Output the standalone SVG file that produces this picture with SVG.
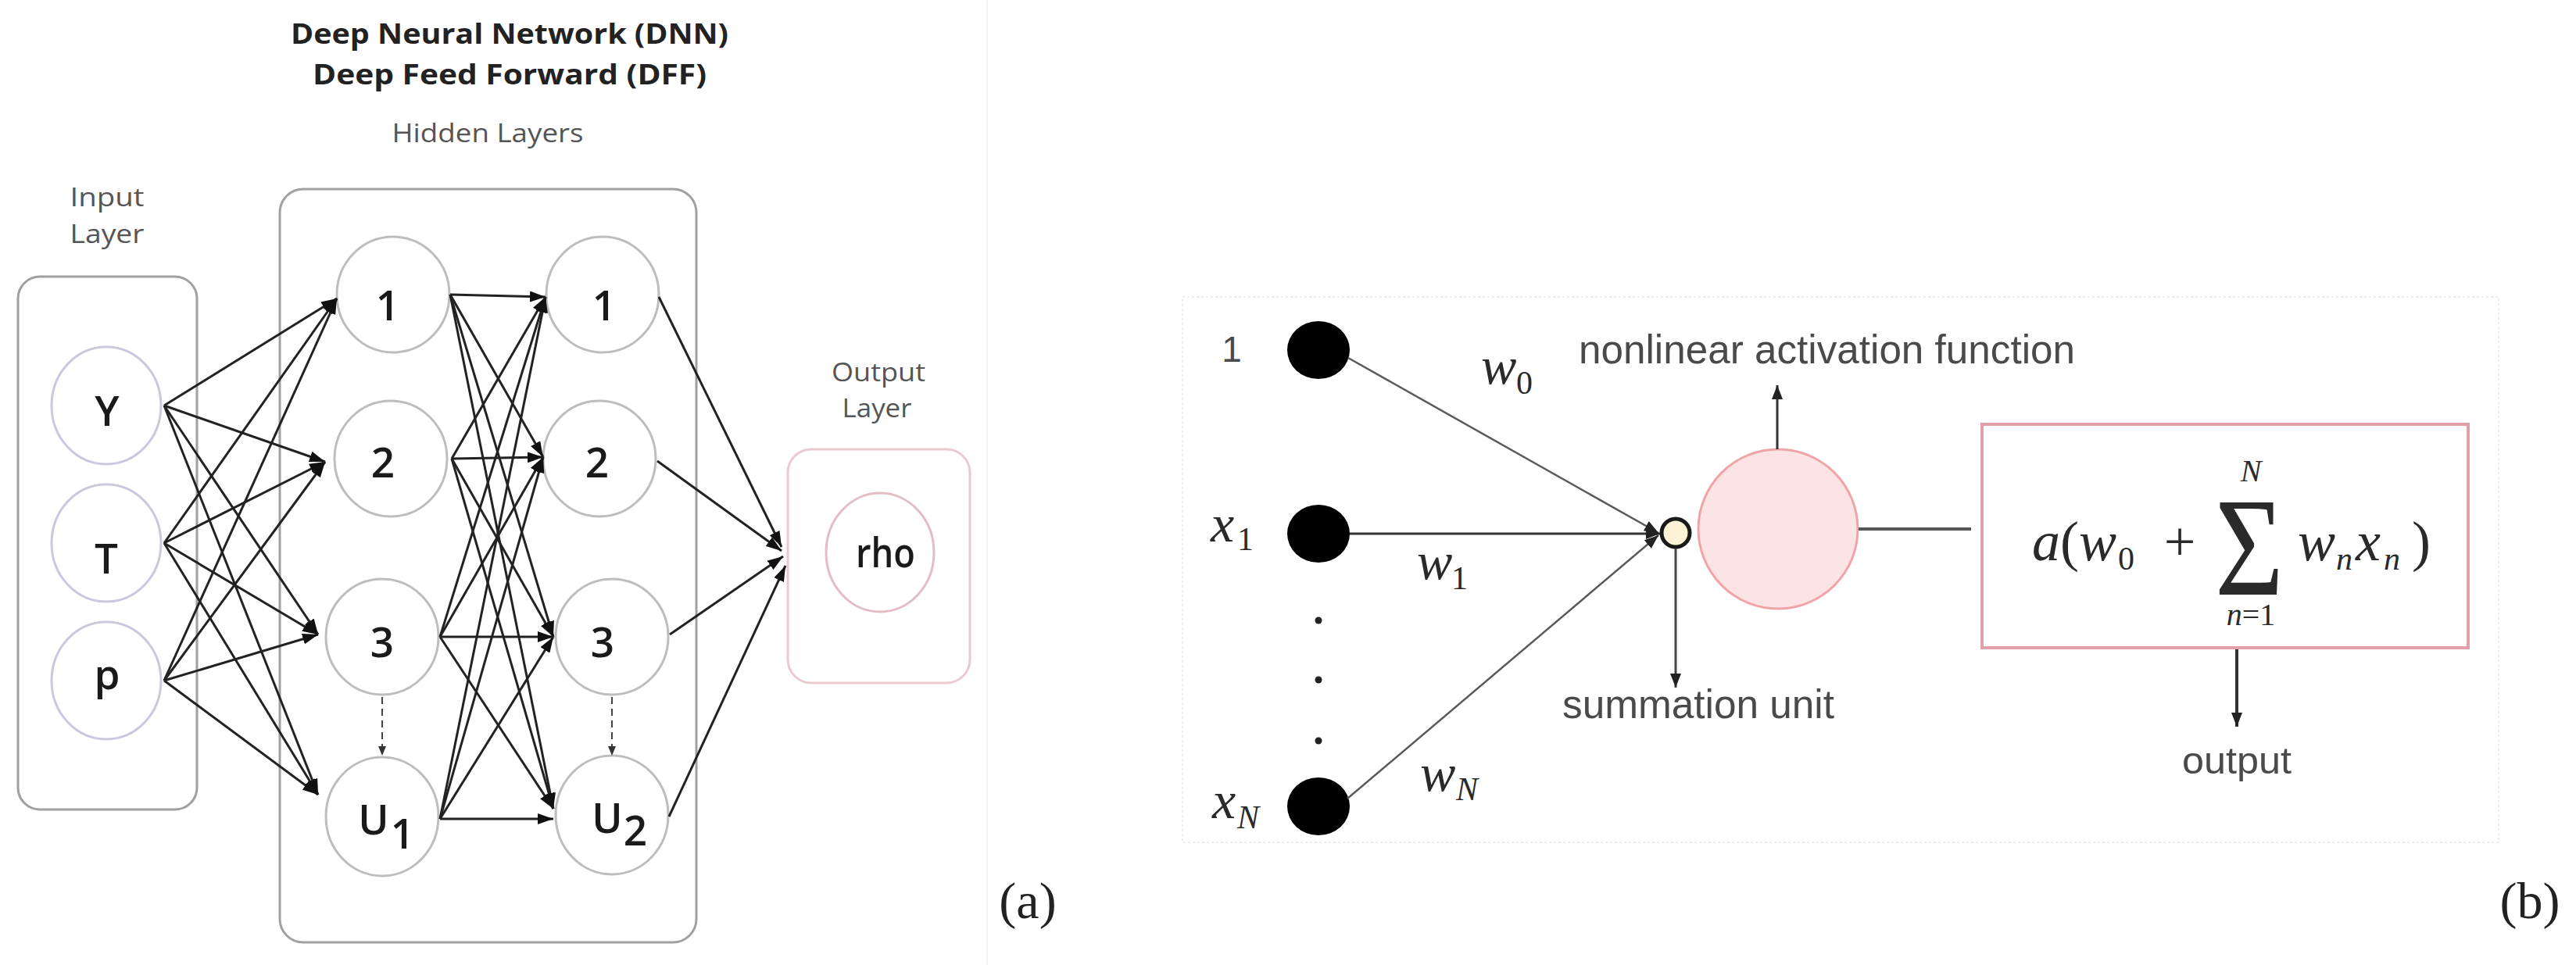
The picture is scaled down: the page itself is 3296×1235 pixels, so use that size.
<svg xmlns="http://www.w3.org/2000/svg" width="3296" height="1235" viewBox="0 0 3296 1235">
<defs>
<style>
.box{fill:none;stroke:#a0a0a0;stroke-width:3}
.inc{fill:#fff;stroke:#c9c9dd;stroke-width:3}
.hid{fill:#fff;stroke:#bdbdbd;stroke-width:3}
.lbl{font-family:"Open Sans","Liberation Sans",sans-serif;fill:#555;font-size:32px;text-anchor:middle}
.ttl{font-family:"Open Sans","Liberation Sans",sans-serif;fill:#222;font-size:36px;font-weight:700;text-anchor:middle}
.nl{font-family:"Open Sans","Liberation Sans",sans-serif;fill:#1a1a1a;font-size:53px;font-weight:600;text-anchor:middle}
.cn{stroke:#222;stroke-width:3;fill:none}
.cnb{stroke:#5a5a5a;stroke-width:2.5;fill:none}
.sans{font-family:"Liberation Sans",Arial,sans-serif;fill:#4a4a4a}
.mi{font-family:"Liberation Serif","Times New Roman",serif;font-style:italic;fill:#2a2a2a}
.mr{font-family:"Liberation Serif","Times New Roman",serif;fill:#2a2a2a}
</style>
<marker id="arr" markerUnits="userSpaceOnUse" markerWidth="20" markerHeight="14" viewBox="0 0 20 14" refX="20" refY="7" orient="auto">
<path d="M0,0 L20,7 L0,14 z" fill="#111"/>
</marker>
<marker id="arrs" markerUnits="userSpaceOnUse" markerWidth="12" markerHeight="10" viewBox="0 0 12 10" refX="12" refY="5" orient="auto">
<path d="M0,0 L12,5 L0,10 z" fill="#333"/>
</marker>
<marker id="arrb" markerUnits="userSpaceOnUse" markerWidth="18" markerHeight="14" viewBox="0 0 18 14" refX="18" refY="7" orient="auto">
<path d="M0,0 L18,7 L0,14 z" fill="#222"/>
</marker>
</defs>
<rect width="3296" height="1235" fill="#fff"/>
<line x1="1263" y1="0" x2="1263" y2="1235" stroke="#f3f3f3" stroke-width="2"/>

<!-- Part (a) -->
<g id="titles">
<text class="ttl" x="652" y="56" textLength="560" lengthAdjust="spacingAndGlyphs">Deep Neural Network (DNN)</text>
<text class="ttl" x="652" y="108" textLength="504" lengthAdjust="spacingAndGlyphs">Deep Feed Forward (DFF)</text>
<text class="lbl" x="624" y="182" textLength="245" lengthAdjust="spacingAndGlyphs">Hidden Layers</text>
<text class="lbl" x="137" y="264" textLength="95" lengthAdjust="spacingAndGlyphs">Input</text>
<text class="lbl" x="137" y="311" textLength="95" lengthAdjust="spacingAndGlyphs">Layer</text>
<text class="lbl" x="1124" y="488" textLength="120" lengthAdjust="spacingAndGlyphs">Output</text>
<text class="lbl" x="1122" y="534" textLength="89" lengthAdjust="spacingAndGlyphs">Layer</text>
</g>

<g id="input-layer"><rect class="box" x="23" y="354" width="229" height="682" rx="28"/></g>
<g id="hidden-layers"><rect class="box" x="358" y="242" width="533" height="964" rx="30"/></g>
<g id="output-layer"><rect x="1008" y="575" width="233" height="299" rx="30" fill="none" stroke="#ebc9ce" stroke-width="3"/></g>

<g id="node-Y"><ellipse class="inc" cx="136" cy="519" rx="70" ry="75"/><text class="nl" x="137" y="545">Y</text></g>
<g id="node-T"><ellipse class="inc" cx="136" cy="695" rx="70" ry="75"/><text class="nl" x="136" y="734">T</text></g>
<g id="node-p"><ellipse class="inc" cx="136" cy="871" rx="70" ry="75"/><text class="nl" x="137" y="882">p</text></g>

<g id="node-h1-1"><ellipse class="hid" cx="503" cy="377" rx="72" ry="74"/><text class="nl" x="496" y="410">1</text></g>
<g id="node-h1-2"><ellipse class="hid" cx="500" cy="587" rx="72" ry="74"/><text class="nl" x="490" y="611">2</text></g>
<g id="node-h1-3"><ellipse class="hid" cx="489" cy="815" rx="72" ry="74"/><text class="nl" x="489" y="841">3</text></g>
<g id="node-h1-U"><ellipse class="hid" cx="489" cy="1045" rx="72" ry="76"/><text class="nl" x="478" y="1068" font-size="70">U</text><text class="nl" x="515" y="1086" font-size="34">1</text></g>

<g id="node-h2-1"><ellipse class="hid" cx="771" cy="377" rx="72" ry="74"/><text class="nl" x="773" y="410">1</text></g>
<g id="node-h2-2"><ellipse class="hid" cx="767" cy="587" rx="72" ry="74"/><text class="nl" x="764" y="611">2</text></g>
<g id="node-h2-3"><ellipse class="hid" cx="783" cy="815" rx="72" ry="74"/><text class="nl" x="771" y="841">3</text></g>
<g id="node-h2-U"><ellipse class="hid" cx="783" cy="1043" rx="72" ry="76"/><text class="nl" x="777" y="1066" font-size="70">U</text><text class="nl" x="813" y="1082" font-size="34">2</text></g>

<g id="node-rho"><ellipse cx="1126" cy="707" rx="69" ry="76" fill="#fff" stroke="#e3bcc4" stroke-width="3"/><text class="nl" x="1133" y="726" font-size="44" textLength="76" lengthAdjust="spacingAndGlyphs">rho</text></g>

<g id="connectors-a">
<line class="cn" x1="210" y1="519" x2="431" y2="382" marker-end="url(#arr)"/>
<line class="cn" x1="210" y1="519" x2="416" y2="591" marker-end="url(#arr)"/>
<line class="cn" x1="210" y1="519" x2="407" y2="812" marker-end="url(#arr)"/>
<line class="cn" x1="210" y1="519" x2="407" y2="1017" marker-end="url(#arr)"/>
<line class="cn" x1="210" y1="695" x2="431" y2="382" marker-end="url(#arr)"/>
<line class="cn" x1="210" y1="695" x2="416" y2="591" marker-end="url(#arr)"/>
<line class="cn" x1="210" y1="695" x2="407" y2="812" marker-end="url(#arr)"/>
<line class="cn" x1="210" y1="695" x2="407" y2="1017" marker-end="url(#arr)"/>
<line class="cn" x1="210" y1="871" x2="431" y2="382" marker-end="url(#arr)"/>
<line class="cn" x1="210" y1="871" x2="416" y2="591" marker-end="url(#arr)"/>
<line class="cn" x1="210" y1="871" x2="407" y2="812" marker-end="url(#arr)"/>
<line class="cn" x1="210" y1="871" x2="407" y2="1017" marker-end="url(#arr)"/>
<line class="cn" x1="576" y1="377" x2="698" y2="380" marker-end="url(#arr)" stroke-width="4"/>
<line class="cn" x1="576" y1="377" x2="695" y2="585" marker-end="url(#arr)"/>
<line class="cn" x1="576" y1="377" x2="708" y2="815" marker-end="url(#arr)"/>
<line class="cn" x1="576" y1="377" x2="708" y2="1035" marker-end="url(#arr)"/>
<line class="cn" x1="578" y1="587" x2="698" y2="380" marker-end="url(#arr)"/>
<line class="cn" x1="578" y1="587" x2="695" y2="585" marker-end="url(#arr)" stroke-width="4"/>
<line class="cn" x1="578" y1="587" x2="708" y2="815" marker-end="url(#arr)"/>
<line class="cn" x1="578" y1="587" x2="708" y2="1035" marker-end="url(#arr)"/>
<line class="cn" x1="563" y1="815" x2="698" y2="380" marker-end="url(#arr)"/>
<line class="cn" x1="563" y1="815" x2="695" y2="585" marker-end="url(#arr)"/>
<line class="cn" x1="563" y1="815" x2="708" y2="815" marker-end="url(#arr)" stroke-width="4"/>
<line class="cn" x1="563" y1="815" x2="708" y2="1035" marker-end="url(#arr)"/>
<line class="cn" x1="563" y1="1048" x2="698" y2="380" marker-end="url(#arr)"/>
<line class="cn" x1="563" y1="1048" x2="695" y2="585" marker-end="url(#arr)"/>
<line class="cn" x1="563" y1="1048" x2="708" y2="815" marker-end="url(#arr)"/>
<line class="cn" x1="563" y1="1048" x2="708" y2="1048" marker-end="url(#arr)" stroke-width="4"/>
<line class="cn" x1="843" y1="380" x2="1000" y2="700" marker-end="url(#arr)"/>
<line class="cn" x1="841" y1="590" x2="1000" y2="705" marker-end="url(#arr)"/>
<line class="cn" x1="857" y1="812" x2="1002" y2="712" marker-end="url(#arr)"/>
<line class="cn" x1="856" y1="1045" x2="1005" y2="724" marker-end="url(#arr)"/>
<line x1="489" y1="892" x2="489" y2="967" stroke="#444" stroke-width="2" stroke-dasharray="9 6" marker-end="url(#arrs)"/>
<line x1="783" y1="892" x2="783" y2="967" stroke="#444" stroke-width="2" stroke-dasharray="9 6" marker-end="url(#arrs)"/>
</g>

<text x="1315" y="1175" font-family="Liberation Serif, serif" font-size="66" fill="#222" text-anchor="middle">(a)</text>

<!-- Part (b) -->
<rect x="1513" y="380" width="1684" height="698" fill="none" stroke="#ececec" stroke-width="2" stroke-dasharray="3 3"/>

<g id="input-1"><ellipse cx="1687" cy="448" rx="40" ry="37" fill="#000"/><text class="sans" x="1576" y="463" font-size="46" text-anchor="middle" fill="#555">1</text></g>
<g id="input-x1"><ellipse cx="1687" cy="683" rx="40" ry="37" fill="#000"/><text class="mi" x="1549" y="693" font-size="68">x</text><text class="mr" x="1583" y="704" font-size="42">1</text></g>
<g id="input-ellipsis"><circle cx="1687" cy="794" r="4.5" fill="#222"/><circle cx="1687" cy="870" r="4.5" fill="#222"/><circle cx="1687" cy="948" r="4.5" fill="#222"/></g>
<g id="input-xN"><ellipse cx="1687" cy="1032" rx="40" ry="37" fill="#000"/><text class="mi" x="1551" y="1047" font-size="68">x</text><text class="mi" x="1583" y="1060" font-size="42">N</text></g>

<g id="weights">
<text class="mi" x="1895" y="491" font-size="68">w</text><text class="mr" x="1940" y="504" font-size="42">0</text>
<text class="mi" x="1813" y="741" font-size="68">w</text><text class="mr" x="1857" y="754" font-size="42">1</text>
<text class="mi" x="1817" y="1012" font-size="68">w</text><text class="mi" x="1863" y="1024" font-size="42">N</text>
</g>

<g id="activation"><circle cx="2275" cy="677" r="102" fill="#fce4e4" stroke="#f0a4a8" stroke-width="3"/></g>
<g id="summation"><circle cx="2144" cy="682" r="18" fill="#fdf2d5" stroke="#1a1a1a" stroke-width="5"/></g>

<g id="formula">
<rect x="2536" y="543" width="622" height="286" fill="#fff" stroke="#e2a0a8" stroke-width="4"/>
<text class="mi" x="2600" y="717" font-size="72">a</text>
<text class="mr" x="2636" y="717" font-size="72">(</text>
<text class="mi" x="2660" y="717" font-size="72">w</text>
<text class="mr" x="2710" y="729" font-size="42">0</text>
<text class="mr" x="2789" y="717" font-size="72" text-anchor="middle">+</text>
<text class="mr" x="2834" y="761" font-size="180" textLength="88" lengthAdjust="spacingAndGlyphs">Σ</text>
<text class="mi" x="2880" y="616" font-size="40" text-anchor="middle">N</text>
<text class="mi" x="2880" y="800" font-size="40" text-anchor="middle">n<tspan font-style="normal">=1</tspan></text>
<text class="mi" x="2940" y="717" font-size="72">w</text>
<text class="mi" x="2989" y="729" font-size="42">n</text>
<text class="mi" x="3014" y="717" font-size="72">x</text>
<text class="mi" x="3050" y="729" font-size="42">n</text>
<text class="mr" x="3086" y="717" font-size="72">)</text>
</g>

<g id="labels-b">
<text class="sans" x="2020" y="465" font-size="52" textLength="635" lengthAdjust="spacingAndGlyphs">nonlinear activation function</text>
<text class="sans" x="1999" y="919" font-size="52" textLength="348" lengthAdjust="spacingAndGlyphs">summation unit</text>
<text class="sans" x="2862" y="990" font-size="48" text-anchor="middle" fill="#333" textLength="140" lengthAdjust="spacingAndGlyphs">output</text>
</g>

<g id="connectors-b">
<line class="cnb" x1="1725" y1="458" x2="2122" y2="682" marker-end="url(#arrb)"/>
<line x1="1727" y1="683" x2="2124" y2="683" stroke="#333" stroke-width="3" marker-end="url(#arrb)"/>
<line class="cnb" x1="1724" y1="1022" x2="2122" y2="685" marker-end="url(#arrb)"/>
<line x1="2274" y1="575" x2="2274" y2="493" stroke="#333" stroke-width="3" marker-end="url(#arrb)"/>
<line x1="2144" y1="702" x2="2144" y2="880" stroke="#444" stroke-width="3" marker-end="url(#arrb)"/>
<line x1="2378" y1="677" x2="2522" y2="677" stroke="#555" stroke-width="4"/>
<line x1="2862" y1="831" x2="2862" y2="930" stroke="#333" stroke-width="4" marker-end="url(#arrb)"/>
</g>

<text x="3237" y="1175" font-family="Liberation Serif, serif" font-size="66" fill="#222" text-anchor="middle">(b)</text>
</svg>
